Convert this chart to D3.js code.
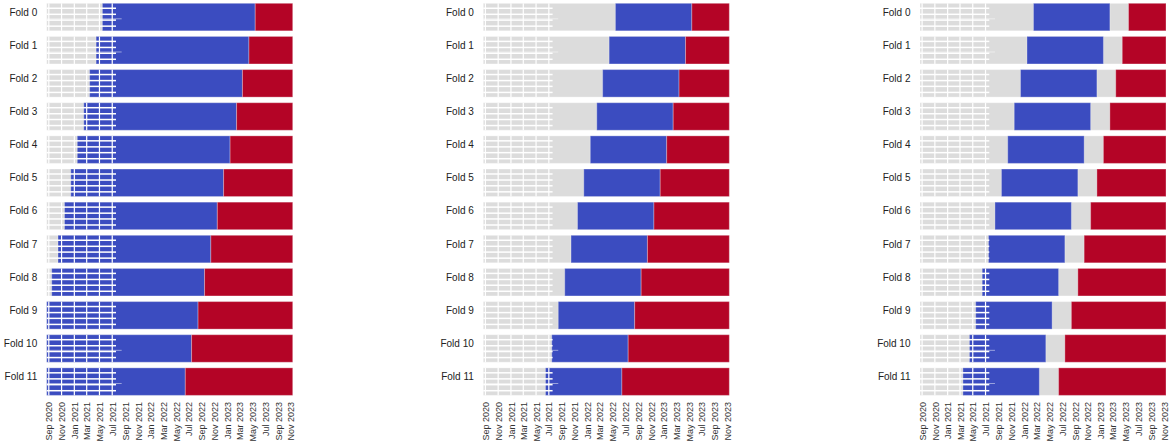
<!DOCTYPE html>
<html>
<head>
<meta charset="utf-8">
<script src="https://cdn.jsdelivr.net/npm/d3@7"></script>
<style>
  html, body { margin: 0; padding: 0; background: #ffffff; }
  svg { display: block; font-family: "Liberation Sans", Arial, sans-serif; }
</style>
</head>
<body>
<svg id="chart" width="1173" height="444"></svg>
<script>
// ---- data -------------------------------------------------------------
const folds = ["Fold 0","Fold 1","Fold 2","Fold 3","Fold 4","Fold 5",
               "Fold 6","Fold 7","Fold 8","Fold 9","Fold 10","Fold 11"];

const dataStart = "2020-08-22";
const dataEnd   = "2023-11-10";

// test window starts (tests run to the end of the data)
const testStart = ["2023-05-15","2023-04-15","2023-03-15","2023-02-15","2023-01-15","2022-12-15",
                   "2022-11-15","2022-10-15","2022-09-15","2022-08-15","2022-07-15","2022-06-15"];

// scheme A: two-year training window, clipped at the start of the data
const trainStartA = ["2021-05-15","2021-04-15","2021-03-15","2021-02-15","2021-01-15","2020-12-15",
                     "2020-11-15","2020-10-15","2020-09-15","2020-08-22","2020-08-22","2020-08-22"];
const trainEndA   = testStart;

// scheme B: one-year training window right before the test
const trainStartB = ["2022-05-15","2022-04-15","2022-03-15","2022-02-15","2022-01-15","2021-12-15",
                     "2021-11-15","2021-10-15","2021-09-15","2021-08-15","2021-07-15","2021-06-15"];
const trainEndB   = testStart;

// scheme C: one-year training window, three-month gap before the test
const trainStartC = ["2022-02-15","2022-01-15","2021-12-15","2021-11-15","2021-10-15","2021-09-15",
                     "2021-08-15","2021-07-15","2021-06-15","2021-05-15","2021-04-15","2021-03-15"];
const trainEndC   = ["2023-02-15","2023-01-15","2022-12-15","2022-11-15","2022-10-15","2022-09-15",
                     "2022-08-15","2022-07-15","2022-06-15","2022-05-15","2022-04-15","2022-03-15"];

const tickLabels = ["Sep 2020","Nov 2020","Jan 2021","Mar 2021","May 2021","Jul 2021",
                    "Sep 2021","Nov 2021","Jan 2022","Mar 2022","May 2022","Jul 2022",
                    "Sep 2022","Nov 2022","Jan 2023","Mar 2023","May 2023","Jul 2023",
                    "Sep 2023","Nov 2023"];

// light white grid laid over the early part of every row
const gridEnd = "2021-07-19";
const gridTicks = ["Sep 2020","Nov 2020","Jan 2021","Mar 2021","May 2021","Jul 2021"];
const gridRows = [0.18, 0.40, 0.61, 0.83];
const trailFolds = ["Fold 0","Fold 1","Fold 10","Fold 11"];
const trailEnd = "2021-08-15";

// ---- drawing ----------------------------------------------------------
const parseDay = d3.timeParse("%Y-%m-%d");
const parseMonth = d3.timeParse("%b %Y");

const colors = { none: "#dcdcdc", train: "#3b4cc0", test: "#b40426" };

const panels = [
  { x: 46.7,  trainStart: trainStartA, trainEnd: trainEndA },
  { x: 483.3, trainStart: trainStartB, trainEnd: trainEndB },
  { x: 920,   trainStart: trainStartC, trainEnd: trainEndC }
];

const width = 246;
const svg = d3.select("#chart");

const y = d3.scaleBand()
  .domain(folds)
  .range([0.5, 398.2])
  .paddingInner(0.17)
  .paddingOuter(0.085);

const x = d3.scaleTime()
  .domain([parseDay(dataStart), parseDay(dataEnd)])
  .range([0, width]);

panels.forEach(p => {
  const g = svg.append("g").attr("transform", `translate(${p.x},0)`);

  const rows = g.selectAll("g.fold")
    .data(folds.map((f, i) => ({ fold: f, i })))
    .join("g")
    .attr("class", "fold");

  // full data range
  rows.append("rect")
    .attr("x", x(parseDay(dataStart)))
    .attr("y", d => y(d.fold))
    .attr("width", x(parseDay(dataEnd)) - x(parseDay(dataStart)))
    .attr("height", y.bandwidth())
    .attr("fill", colors.none)
    .attr("stroke", "#ffffff").attr("stroke-opacity", 0.35).attr("stroke-width", 1);

  // training window
  rows.append("rect")
    .attr("x", d => x(parseDay(p.trainStart[d.i])))
    .attr("y", d => y(d.fold))
    .attr("width", d => x(parseDay(p.trainEnd[d.i])) - x(parseDay(p.trainStart[d.i])))
    .attr("height", y.bandwidth())
    .attr("fill", colors.train)
    .attr("stroke", "#ffffff").attr("stroke-opacity", 0.3).attr("stroke-width", 1);

  // test window
  rows.append("rect")
    .attr("x", d => x(parseDay(testStart[d.i])))
    .attr("y", d => y(d.fold))
    .attr("width", d => x(parseDay(dataEnd)) - x(parseDay(testStart[d.i])))
    .attr("height", y.bandwidth())
    .attr("fill", colors.test)
    .attr("stroke", "#ffffff").attr("stroke-opacity", 0.3).attr("stroke-width", 1);

  // white grid over the early months
  const gx0 = x(parseDay(dataStart)), gx1 = x(parseDay(gridEnd));
  gridRows.forEach(fr => {
    rows.append("rect")
      .attr("x", gx0)
      .attr("y", d => y(d.fold) + fr * y.bandwidth() - 0.75)
      .attr("width", gx1 - gx0)
      .attr("height", 1.5)
      .attr("fill", "#ffffff");
  });
  gridTicks.forEach(t => {
    rows.append("rect")
      .attr("x", x(parseMonth(t)) - 0.6)
      .attr("y", d => y(d.fold))
      .attr("width", 1.2)
      .attr("height", y.bandwidth())
      .attr("fill", "#ffffff");
  });
  rows.filter(d => trailFolds.includes(d.fold))
    .append("rect")
    .attr("x", gx0)
    .attr("y", d => y(d.fold) + 0.55 * y.bandwidth())
    .attr("width", x(parseDay(trailEnd)) - gx0)
    .attr("height", 0.8)
    .attr("fill", "#ffffff")
    .attr("fill-opacity", 0.6);

  // fold labels, sitting in the upper part of each row
  rows.append("text")
    .attr("x", -9.5)
    .attr("y", d => y(d.fold) + y.bandwidth() / 2 - 5)
    .attr("dy", "0.35em")
    .attr("text-anchor", "end")
    .attr("font-size", 10)
    .attr("fill", "#222222")
    .text(d => d.fold);

  // x axis
  const axis = d3.axisBottom(x)
    .tickValues(tickLabels.map(parseMonth))
    .tickFormat(d3.timeFormat("%b %Y"))
    .tickSize(0)
    .tickPadding(0);

  const ax = g.append("g")
    .attr("transform", "translate(0,400)")
    .call(axis);
  ax.select(".domain").remove();
  ax.selectAll("text")
    .attr("transform", "rotate(-90)")
    .attr("x", -2)
    .attr("y", 0)
    .attr("dy", "0.35em")
    .attr("text-anchor", "end")
    .attr("font-size", 9)
    .attr("font-family", "Liberation Sans, Arial, sans-serif")
    .attr("fill", "#333333");
});
</script>
</body>
</html>
